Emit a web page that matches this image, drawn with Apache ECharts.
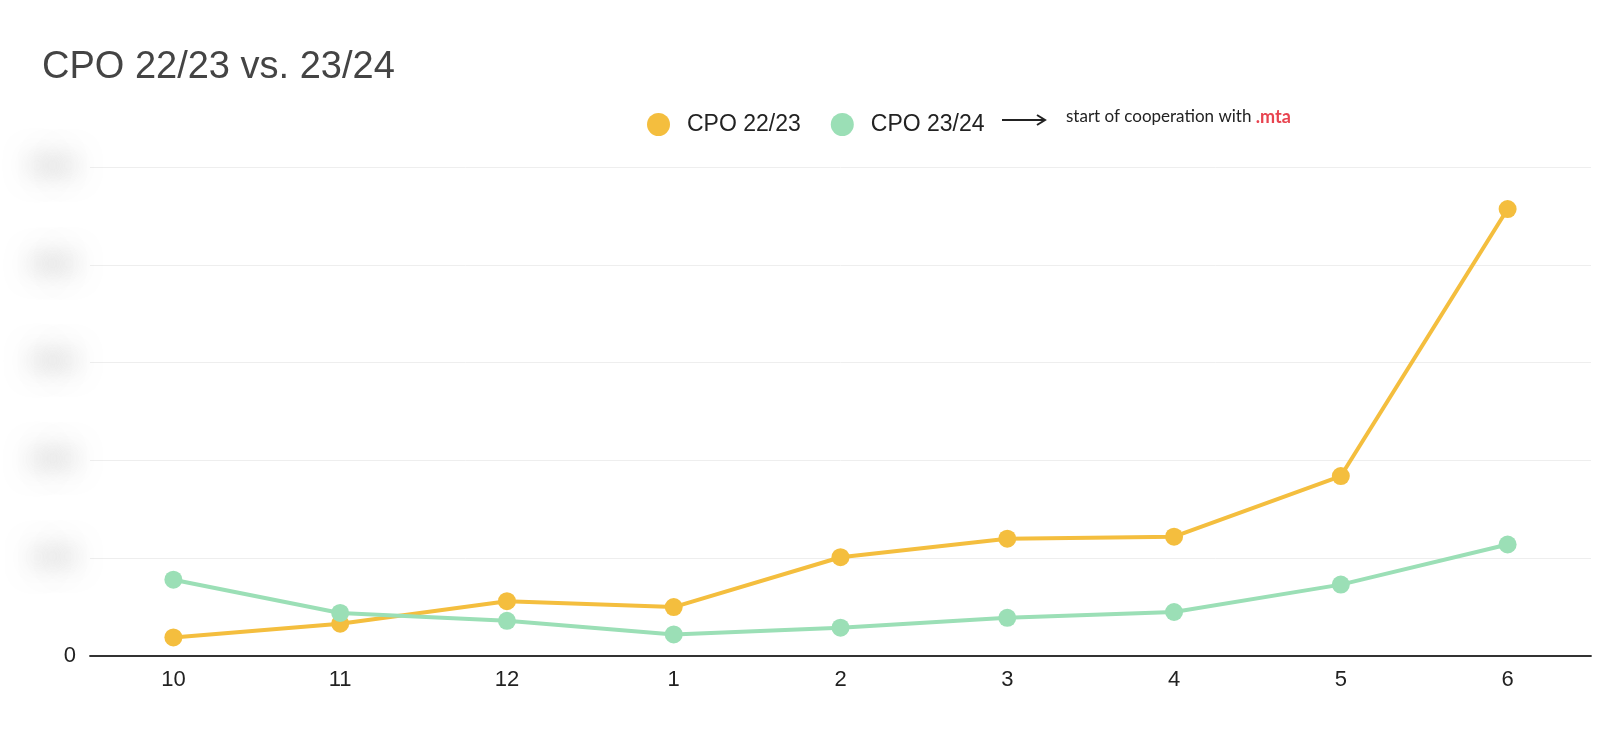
<!DOCTYPE html>
<html><head><meta charset="utf-8">
<script src="https://cdn.jsdelivr.net/npm/echarts@6/dist/echarts.min.js"></script>
<style>html,body{margin:0;padding:0;background:#fff}#c{width:1606px;height:732px}</style>
</head><body><div id="c"></div>
<script>
const categories = ['10','11','12','1','2','3','4','5','6'];
const cpo2223 = [19, 33, 56, 50, 101, 120, 122, 184, 457];
const cpo2324 = [78, 44, 36, 22, 29, 39, 45, 73, 114];
const yTicks = [0, 100, 200, 300, 400, 500];

const SHIFT = 1200;
const chart = echarts.init(document.getElementById('c'));
chart.setOption({
  animation: false,
  backgroundColor: '#fff',
  title: {
    text: 'CPO 22/23 vs. 23/24', left: 37, top: 44,
    textStyle: {fontFamily: 'Liberation Sans, Arial', fontSize: 38, fontWeight: 'normal', color: '#444'}
  },
  legend: {
    left: 642, top: 108, itemWidth: 23, itemHeight: 23, itemGap: 30, icon: 'circle',
    textStyle: {fontFamily: 'Liberation Sans, Arial', fontSize: 23, color: '#222', padding: [0, 0, 0, 12]},
    data: ['CPO 22/23', 'CPO 23/24']
  },
  graphic: [
    {type: 'line', shape: {x1: 1002, y1: 120, x2: 1044, y2: 120}, style: {stroke: '#222', lineWidth: 2}},
    {type: 'polyline', shape: {points: [[1037, 115], [1045, 120], [1037, 125]]}, style: {stroke: '#222', lineWidth: 2, fill: null}},
    {type: 'text', left: 1066, top: 108, style: {
      text: 'start of cooperation with {r|.mta}',
      font: '17px Lato, "Noto Sans", sans-serif', fill: '#222',
      rich: {r: {fill: '#e8434f', fontWeight: 'bold', fontSize: 18, fontFamily: 'Lato, sans-serif'}}
    }}
  ],
  grid: {left: 90, right: 15, top: 167, bottom: 76, containLabel: false, outerBoundsMode: 'none'},
  xAxis: {
    type: 'category', data: categories, boundaryGap: true,
    axisLine: {lineStyle: {color: '#333', width: 1.8}},
    axisTick: {show: false},
    axisLabel: {fontFamily: 'Liberation Sans, Arial', fontSize: 22, color: '#222', margin: 13}
  },
  yAxis: [
    {
      type: 'value', min: 0, max: 500, interval: 100,
      axisLine: {show: false}, axisTick: {show: false},
      splitLine: {lineStyle: {color: '#eeeeee', width: 1}},
      axisLabel: {
        fontFamily: 'Liberation Sans, Arial', fontSize: 28, fontWeight: 'bold', margin: 14 + SHIFT,
        formatter: v => (Number(v) === 0 ? '' : String(v)),
        color: '#000',
        textShadowColor: 'rgba(160,160,160,0.75)', textShadowBlur: 26,
        textShadowOffsetX: SHIFT, textShadowOffsetY: 0
      }
    },
    {
      type: 'value', min: 0, max: 500, interval: 100, position: 'left',
      axisLine: {show: false}, axisTick: {show: false}, splitLine: {show: false},
      axisLabel: {
        fontFamily: 'Liberation Sans, Arial', fontSize: 22, margin: 14, color: '#222',
        formatter: v => (Number(v) === 0 ? '0' : '')
      }
    }
  ],
  series: [
    {name: 'CPO 22/23', type: 'line', data: cpo2223, symbol: 'circle', symbolSize: 18,
     itemStyle: {color: '#F4BE3E'}, lineStyle: {color: '#F4BE3E', width: 4}},
    {name: 'CPO 23/24', type: 'line', data: cpo2324, symbol: 'circle', symbolSize: 18,
     itemStyle: {color: '#9BDFB6'}, lineStyle: {color: '#9BDFB6', width: 4}}
  ]
});
</script></body></html>
